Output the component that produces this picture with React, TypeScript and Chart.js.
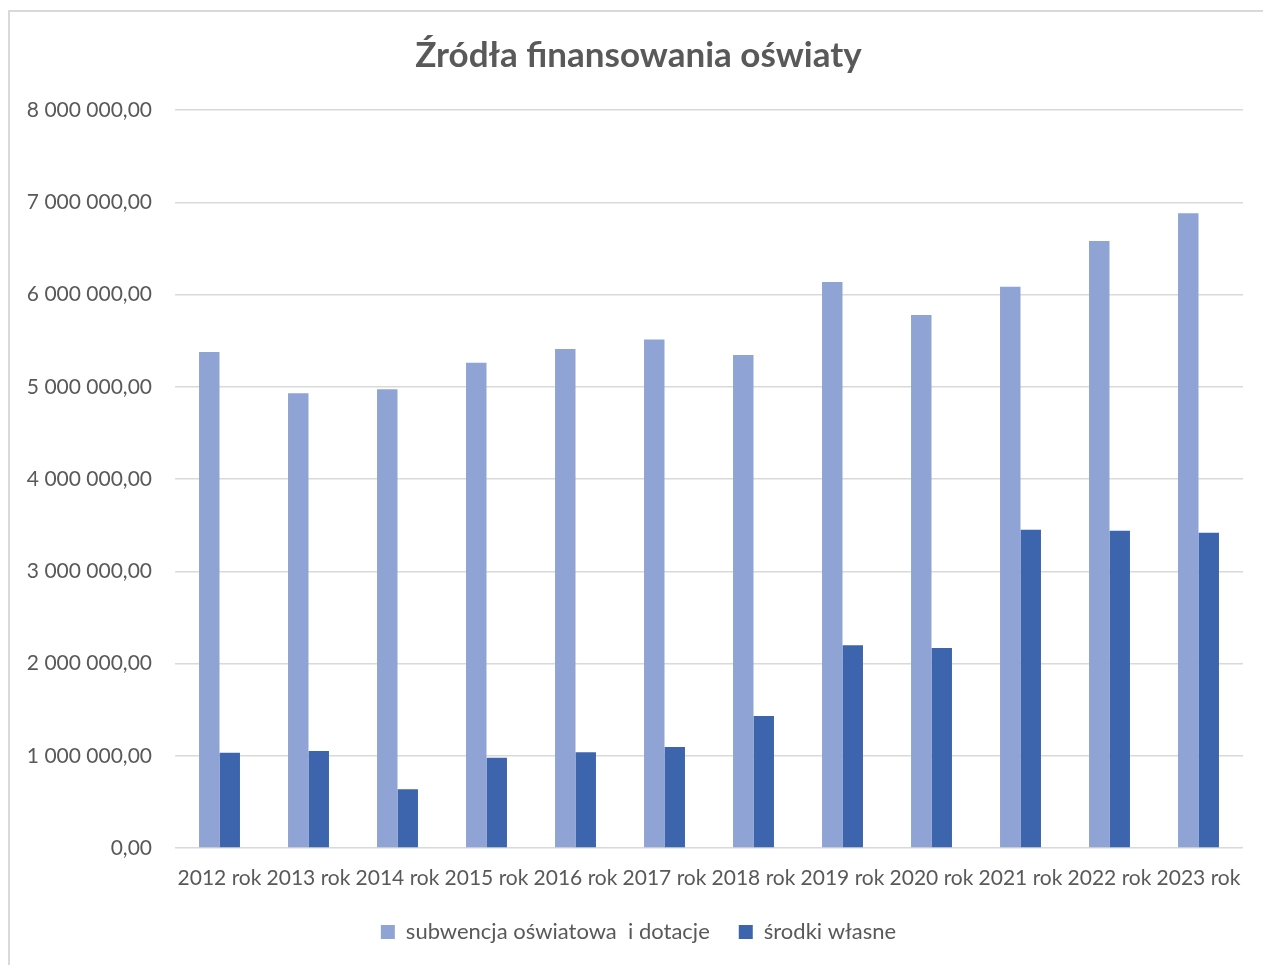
import React, { useEffect, useRef } from "react";
import { Chart, registerables } from "chart.js";

Chart.register(...registerables);

const chartTitle = "Źródła finansowania oświaty";
const categories = [
  "2012 rok", "2013 rok", "2014 rok", "2015 rok", "2016 rok", "2017 rok",
  "2018 rok", "2019 rok", "2020 rok", "2021 rok", "2022 rok", "2023 rok",
];
const seriesNames = ["subwencja oświatowa  i dotacje", "środki własne"];
const subwencja = [
  5377000, 4930000, 4972000, 5260000, 5410000, 5512000,
  5344000, 6136000, 5778000, 6083000, 6580000, 6882000,
];
const srodkiWlasne = [
  1032000, 1052000, 636000, 978000, 1037000, 1096000,
  1430000, 2197000, 2168000, 3450000, 3440000, 3418000,
];
const yMin = 0;
const yMax = 8000000;
const yStep = 1000000;

const textColor = "#595959";
const fontFamily = "Lato, 'Noto Sans', sans-serif";

function formatPl(v: number): string {
  const s = Math.round(v).toString().replace(/\B(?=(\d{3})+(?!\d))/g, " ");
  return s + ",00";
}

export default function App() {
  const canvasRef = useRef<HTMLCanvasElement | null>(null);

  useEffect(() => {
    if (!canvasRef.current) return;
    const chart = new Chart(canvasRef.current, {
      type: "bar",
      data: {
        labels: categories,
        datasets: [
          {
            label: seriesNames[0],
            data: subwencja,
            backgroundColor: "#8FA4D5",
            borderWidth: 0,
            categoryPercentage: 0.46,
            barPercentage: 1.0,
          },
          {
            label: seriesNames[1],
            data: srodkiWlasne,
            backgroundColor: "#3C65AE",
            borderWidth: 0,
            categoryPercentage: 0.46,
            barPercentage: 1.0,
          },
        ],
      },
      options: {
        animation: false,
        responsive: false,
        maintainAspectRatio: false,
        devicePixelRatio: 1,
        layout: { padding: { left: 22, right: 8, top: 10, bottom: 12 } },
        plugins: {
          title: {
            display: true,
            text: chartTitle,
            color: textColor,
            font: { family: fontFamily, size: 35, weight: "bold" },
            padding: { top: 25, bottom: 33 },
          },
          legend: {
            display: true,
            position: "bottom",
            labels: {
              color: textColor,
              font: { family: fontFamily, size: 22 },
              boxWidth: 14,
              boxHeight: 14,
              padding: 29,
            },
          },
          tooltip: { enabled: false },
        },
        scales: {
          x: {
            grid: { display: false, drawTicks: false },
            border: { display: false },
            ticks: {
              color: textColor,
              font: { family: fontFamily, size: 21 },
              padding: 18,
              maxRotation: 0,
              autoSkip: false,
            },
            afterFit: (scale: any) => {
              scale.height = 44;
            },
          },
          y: {
            min: yMin,
            max: yMax,
            grid: { color: "#D9D9D9", lineWidth: 1.5, drawTicks: false },
            border: { display: false },
            ticks: {
              stepSize: yStep,
              color: textColor,
              font: { family: fontFamily, size: 21 },
              padding: 23,
              callback: (v: any) => formatPl(Number(v)),
            },
            afterFit: (scale: any) => {
              scale.width = 153;
            },
          },
          yRight: {
            position: "right",
            display: true,
            min: 0,
            max: 1,
            grid: { display: false, drawTicks: false },
            border: { display: false },
            ticks: { display: false },
            afterFit: (scale: any) => {
              scale.width = 12;
            },
          },
        },
      },
    });
    return () => chart.destroy();
  }, []);

  return (
    <div style={{ position: "fixed", left: 0, top: 0, width: "100vw", height: "100vh", overflow: "hidden", background: "#fff" }}>
      <div
        style={{
          position: "absolute",
          left: 8,
          top: 10,
          width: 1300,
          height: 1000,
          border: "2px solid #D9D9D9",
          boxSizing: "border-box",
        }}
      />
      <canvas
        ref={canvasRef}
        width={1263}
        height={965}
        style={{ position: "absolute", left: 0, top: 0, width: 1263, height: 965 }}
      />
    </div>
  );
}
